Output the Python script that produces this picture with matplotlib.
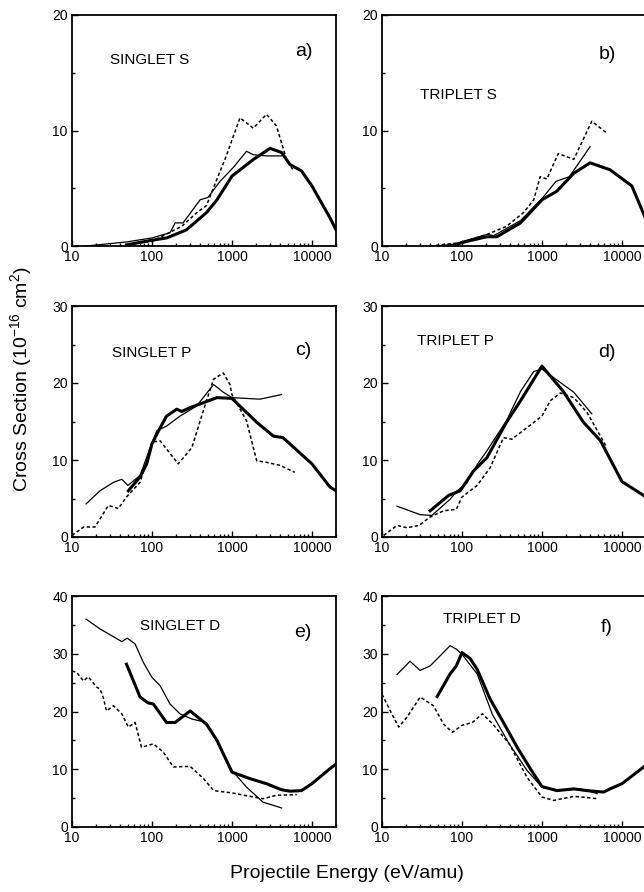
import matplotlib
matplotlib.use("Agg")
import matplotlib.pyplot as plt
from matplotlib.ticker import LogLocator, FixedLocator, NullFormatter, FuncFormatter

plt.rcParams['font.family'] = ['Liberation Sans', 'DejaVu Sans']
plt.rcParams['mathtext.fontset'] = 'custom'
plt.rcParams['mathtext.rm'] = 'Liberation Sans'
plt.rcParams['mathtext.default'] = 'regular'

### data (energy in eV/amu, cross section in 1e-16 cm^2) ###

# a) singlet S
a_thick_x = [48, 100, 153, 270, 482, 650, 1000, 1860, 2990, 4170, 5300, 7400, 10000, 16800, 20000]
a_thick_y = [0.1, 0.5, 0.7, 1.4, 2.9, 4.0, 6.05, 7.5, 8.45, 8.1, 7.06, 6.5, 5.2, 2.45, 1.4]
a_thin_x = [15, 48, 100, 168, 195, 245, 400, 500, 710, 1040, 1520, 1850, 2700, 4170]
a_thin_y = [0.0, 0.35, 0.7, 1.15, 2.0, 2.0, 4.0, 4.2, 5.6, 6.8, 8.2, 7.9, 7.8, 7.8]
a_dash_x = [50, 70, 100, 235, 365, 480, 650, 850, 1040, 1260, 1850, 2700, 3600, 4800, 5900]
a_dash_y = [0.1, 0.3, 0.4, 1.7, 2.9, 3.5, 5.8, 7.8, 9.5, 11.1, 10.2, 11.4, 10.4, 7.5, 6.5]

# b) triplet S
b_thick_x = [80, 115, 205, 273, 540, 1000, 1540, 2500, 4000, 7100, 13300, 20000]
b_thick_y = [0.1, 0.4, 0.8, 0.8, 2.0, 4.0, 4.75, 6.3, 7.2, 6.6, 5.2, 2.3]
b_thin_x = [50, 79, 115, 205, 250, 540, 1000, 1500, 2200, 4000]
b_thin_y = [0.0, 0.15, 0.5, 1.0, 0.9, 2.2, 4.1, 5.6, 6.0, 8.6]
b_dash_x = [40, 100, 205, 360, 590, 790, 950, 1150, 1600, 2500, 4200, 6400]
b_dash_y = [0.0, 0.3, 1.0, 1.7, 2.9, 4.0, 6.0, 5.8, 8.0, 7.5, 10.8, 9.8]

# c) singlet P
c_thick_x = [50.6, 71, 86, 100, 121, 152, 204, 235, 300, 650, 1000, 2040, 3300, 4350, 10000, 16800, 20000]
c_thick_y = [6.0, 7.8, 9.5, 12.1, 13.8, 15.7, 16.6, 16.3, 16.8, 18.1, 18.0, 14.9, 13.1, 12.9, 9.5, 6.5, 6.0]
c_thin_x = [15, 22.4, 33, 42, 50, 71, 95, 115, 152, 224, 360, 590, 780, 1000, 2240, 4170]
c_thin_y = [4.3, 6.0, 7.1, 7.5, 6.7, 8.0, 11.6, 13.8, 14.4, 15.7, 17.0, 19.8, 18.8, 18.1, 17.9, 18.5]
c_dash_x = [10, 14, 19.4, 28.5, 38, 48, 71, 100, 126, 213, 315, 480, 590, 780, 945, 1000, 1520, 2040, 2700, 4000, 6100]
c_dash_y = [0.2, 1.3, 1.3, 4.1, 3.7, 5.2, 7.1, 12.3, 12.5, 9.5, 11.6, 17.7, 20.5, 21.3, 19.8, 18.5, 15.1, 9.9, 9.7, 9.3, 8.4]

# d) triplet P
d_thick_x = [40, 68, 95, 140, 205, 360, 540, 1000, 1850, 3300, 5400, 10000, 20000]
d_thick_y = [3.4, 5.4, 6.0, 8.6, 10.3, 14.9, 17.7, 22.2, 18.9, 14.9, 12.5, 7.2, 5.2]
d_thin_x = [15.4, 30, 42, 71, 87, 115, 155, 205, 360, 540, 790, 1000, 1400, 2500, 4200]
d_thin_y = [4.0, 2.9, 2.8, 4.9, 6.0, 7.0, 9.4, 11.2, 15.1, 18.9, 21.5, 21.8, 20.7, 18.8, 16.0]
d_dash_x = [10.5, 15.4, 20.5, 29, 40, 59, 85, 100, 155, 225, 330, 420, 650, 1000, 1270, 1700, 2500, 3650, 6500]
d_dash_y = [0.2, 1.5, 1.2, 1.5, 2.6, 3.4, 3.6, 5.2, 6.7, 9.0, 12.9, 12.7, 14.2, 15.7, 17.7, 18.7, 18.1, 16.2, 11.6]

# e) singlet D
e_thick_x = [48, 71, 89, 104, 152, 195, 300, 480, 650, 1000, 1700, 2700, 4170, 5300, 7400, 10000, 16800, 20000]
e_thick_y = [28.2, 22.5, 21.5, 21.3, 18.1, 18.1, 20.1, 17.8, 15.0, 9.5, 8.35, 7.5, 6.45, 6.2, 6.3, 7.5, 10.1, 10.9]
e_thin_x = [15, 22.4, 42, 49, 61.5, 78, 100, 126, 168, 224, 315, 480, 710, 1000, 1520, 2450, 4170]
e_thin_y = [36.0, 34.3, 32.1, 32.7, 31.7, 28.5, 25.9, 24.5, 21.3, 19.6, 18.7, 18.1, 13.8, 9.8, 6.9, 4.3, 3.3]
e_dash_x = [10, 11.4, 13.9, 16, 20.4, 22.4, 24.6, 27, 33, 42, 50.6, 61.5, 74, 104, 138, 185, 300, 440, 590, 1000, 1850, 2450, 3600, 6450]
e_dash_y = [27.0, 26.8, 25.3, 26.0, 24.2, 23.9, 22.4, 20.1, 21.0, 19.6, 17.3, 18.1, 13.8, 14.4, 13.0, 10.4, 10.5, 8.4, 6.3, 5.9, 5.2, 4.9, 5.5, 5.6]

# f) triplet D
f_thick_x = [49, 71, 85, 100, 126, 155, 224, 330, 490, 715, 1000, 1540, 2500, 3650, 5900, 7100, 10000, 20000]
f_thick_y = [22.6, 26.5, 27.9, 30.2, 29.2, 27.3, 22.2, 18.1, 13.8, 10.1, 7.0, 6.3, 6.6, 6.3, 6.05, 6.6, 7.5, 10.7]
f_thin_x = [15.4, 22.4, 30, 40, 53, 71, 85, 100, 155, 240, 390, 650, 1000, 1700, 3000, 4900]
f_thin_y = [26.4, 28.7, 27.1, 27.9, 29.6, 31.4, 30.8, 29.9, 26.5, 19.5, 14.4, 9.8, 6.9, 6.3, 6.6, 5.8]
f_dash_x = [10, 12.7, 16.2, 20.5, 30, 44, 59, 76, 100, 135, 180, 240, 390, 650, 1000, 1400, 2500, 3650, 4900]
f_dash_y = [23.0, 20.1, 17.3, 19.0, 22.5, 21.0, 17.8, 16.4, 17.6, 18.1, 19.6, 17.9, 14.4, 8.6, 5.2, 4.6, 5.3, 5.1, 4.9]

states = ['SINGLET S', 'TRIPLET S', 'SINGLET P', 'TRIPLET P', 'SINGLET D', 'TRIPLET D']
letters = ['a)', 'b)', 'c)', 'd)', 'e)', 'f)']
ymax = [20, 20, 30, 30, 40, 40]

curves = [
    (a_thick_x, a_thick_y, a_thin_x, a_thin_y, a_dash_x, a_dash_y),
    (b_thick_x, b_thick_y, b_thin_x, b_thin_y, b_dash_x, b_dash_y),
    (c_thick_x, c_thick_y, c_thin_x, c_thin_y, c_dash_x, c_dash_y),
    (d_thick_x, d_thick_y, d_thin_x, d_thin_y, d_dash_x, d_dash_y),
    (e_thick_x, e_thick_y, e_thin_x, e_thin_y, e_dash_x, e_dash_y),
    (f_thick_x, f_thick_y, f_thin_x, f_thin_y, f_dash_x, f_dash_y),
]

# label positions in axes fraction
state_pos = [(0.144, 0.805), (0.144, 0.654), (0.15, 0.797), (0.133, 0.849), (0.258, 0.871), (0.231, 0.90)]
letter_pos = [(0.879, 0.84), (0.852, 0.827), (0.875, 0.806), (0.852, 0.797), (0.875, 0.84), (0.852, 0.862)]

### layout ###

W, H = 644, 892
fig = plt.figure(figsize=(W / 100, H / 100), dpi=100)

col_left = [72, 382]
row_bottom = [246, 537, 827]
ax_w, ax_h = 264, 231

for i in range(6):
    r, c = divmod(i, 2)
    ax = fig.add_axes([col_left[c] / W, 1 - row_bottom[r] / H, ax_w / W, ax_h / H])
    tx, ty, nx, ny, dx, dy = curves[i]
    ax.plot(tx, ty, color='black', lw=2.2, solid_joinstyle='round')
    ax.plot(nx, ny, color='black', lw=0.9)
    ax.plot(dx, dy, color='black', lw=1.1, linestyle=(0, (2.2, 1.6)))

    ax.set_xscale('log')
    ax.set_xlim(10, 20000)
    ax.set_ylim(0, ymax[i])
    ax.xaxis.set_major_locator(FixedLocator([10, 100, 1000, 10000]))
    ax.xaxis.set_major_formatter(FuncFormatter(lambda v, p: '%d' % round(v)))
    ax.xaxis.set_minor_locator(LogLocator(base=10, subs=range(2, 10)))
    ax.xaxis.set_minor_formatter(NullFormatter())
    ax.yaxis.set_major_locator(FixedLocator(list(range(0, ymax[i] + 1, 10))))
    ax.yaxis.set_minor_locator(FixedLocator(list(range(5, ymax[i], 10))))
    ax.tick_params(which='both', direction='in', top=False, right=False, labelsize=10, pad=3)
    ax.tick_params(which='major', length=4, width=1)
    ax.tick_params(which='minor', length=2.5, width=1)
    for s in ax.spines.values():
        s.set_linewidth(1.3)

    ax.text(*state_pos[i], states[i], transform=ax.transAxes, fontsize=11, ha='left', va='center')
    ax.text(*letter_pos[i], letters[i], transform=ax.transAxes, fontsize=14, ha='center', va='center')

fig.text(21 / W, 1 - 379 / H, 'Cross Section (10$^{-16}$ cm$^{2}$)', rotation=90,
         ha='center', va='center', fontsize=14)
fig.text(347 / W, 1 - 874 / H, 'Projectile Energy (eV/amu)', ha='center', va='center', fontsize=14)

fig.savefig('out.png', dpi=100)
